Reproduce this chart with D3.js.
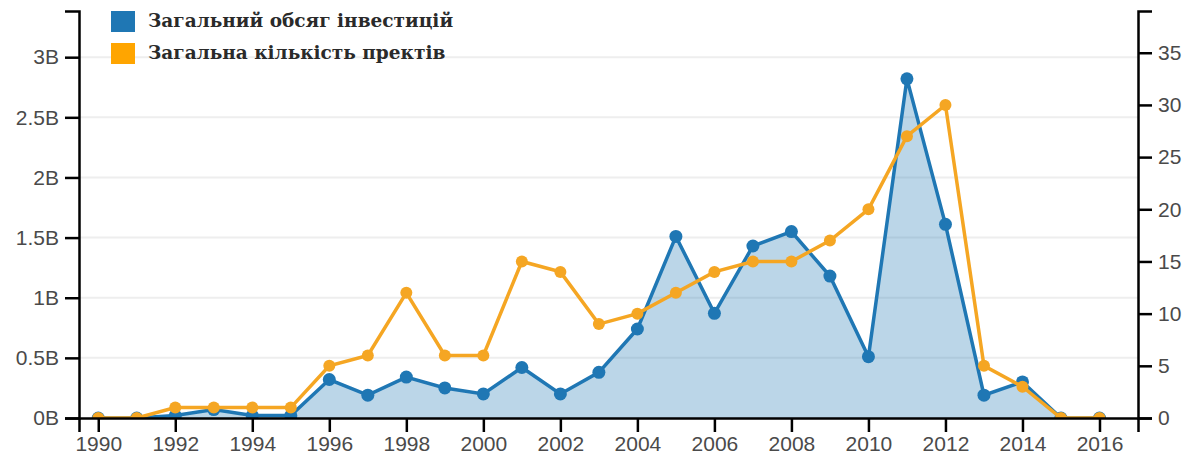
<!DOCTYPE html>
<html>
<head>
<meta charset="utf-8">
<script src="https://cdn.jsdelivr.net/npm/d3@7"></script>
<style>
  body { margin: 0; background: #fff; }
  .tick text { font-family: "Liberation Sans", Arial, sans-serif; font-size: 21px; fill: #4a4a4a; }
  .axis path, .axis line { stroke: #000; stroke-width: 2.5px; }
  .legend text { font-family: "DejaVu Serif", Georgia, serif; font-size: 18.5px; font-weight: bold; fill: #2a2a2a; }
</style>
</head>
<body>
<svg id="chart" width="1194" height="459"></svg>
<script>
// data
var years = [1990, 1991, 1992, 1993, 1994, 1995, 1996, 1997, 1998, 1999, 2000, 2001, 2002, 2003,
             2004, 2005, 2006, 2007, 2008, 2009, 2010, 2011, 2012, 2013, 2014, 2015, 2016];
// total investment, billions
var investment = [0, 0, 0.02, 0.07, 0.02, 0.02, 0.32, 0.19, 0.34, 0.25, 0.20, 0.42, 0.20, 0.38,
                  0.74, 1.51, 0.87, 1.43, 1.55, 1.18, 0.51, 2.82, 1.61, 0.19, 0.30, 0, 0];
// total number of projects
var projects = [0, 0, 1, 1, 1, 1, 5, 6, 12, 6, 6, 15, 14, 9,
                10, 12, 14, 15, 15, 17, 20, 27, 30, 5, 3, 0, 0];

var xTicks = d3.range(1990, 2017, 2);
var leftTicks = [0, 0.5, 1, 1.5, 2, 2.5, 3];
var rightTicks = [0, 5, 10, 15, 20, 25, 30, 35];
var legendLabels = ["Загальний обсяг інвестицій", "Загальна кількість пректів"];

var blue = "#1f77b4", orange = "#f5a623";

var svg = d3.select("#chart");
var margin = {top: 11, right: 56, bottom: 41, left: 79};
var width = 1194, height = 459;

var x = d3.scaleLinear().domain([1989.5, 2017]).range([margin.left, width - margin.right]);
var yL = d3.scaleLinear().domain([0, d3.max(investment) * 1.2]).range([height - margin.bottom, margin.top]);
var yR = d3.scaleLinear().domain([0, d3.max(projects) * 1.3]).range([height - margin.bottom, margin.top]);

var inv = years.map(function (y, i) { return {year: y, v: investment[i]}; });
var prj = years.map(function (y, i) { return {year: y, v: projects[i]}; });

// grid
svg.append("g")
    .selectAll("line")
    .data(leftTicks.slice(1))
    .enter().append("line")
    .attr("x1", margin.left).attr("x2", width - margin.right)
    .attr("y1", function (d) { return yL(d); })
    .attr("y2", function (d) { return yL(d); })
    .attr("stroke", "#eee")
    .attr("stroke-width", 2);

svg.append("clipPath").attr("id", "plot")
    .append("rect")
    .attr("x", margin.left).attr("y", 0)
    .attr("width", width - margin.left - margin.right)
    .attr("height", height - margin.bottom);

var plot = svg.append("g").attr("clip-path", "url(#plot)");

var area = d3.area()
    .x(function (d) { return x(d.year); })
    .y0(yL(0))
    .y1(function (d) { return yL(d.v); });

plot.append("path")
    .datum(inv)
    .attr("d", area)
    .attr("fill", blue)
    .attr("fill-opacity", 0.3);

var lineL = d3.line().x(function (d) { return x(d.year); }).y(function (d) { return yL(d.v); });
var lineR = d3.line().x(function (d) { return x(d.year); }).y(function (d) { return yR(d.v); });

plot.append("path")
    .datum(inv)
    .attr("d", lineL)
    .attr("fill", "none")
    .attr("stroke", blue)
    .attr("stroke-width", 3.5);

plot.selectAll("circle.inv")
    .data(inv)
    .enter().append("circle")
    .attr("class", "inv")
    .attr("cx", function (d) { return x(d.year); })
    .attr("cy", function (d) { return yL(d.v); })
    .attr("r", 6.5)
    .attr("fill", blue);

plot.append("path")
    .datum(prj)
    .attr("d", lineR)
    .attr("fill", "none")
    .attr("stroke", orange)
    .attr("stroke-width", 3.5);

plot.selectAll("circle.prj")
    .data(prj)
    .enter().append("circle")
    .attr("class", "prj")
    .attr("cx", function (d) { return x(d.year); })
    .attr("cy", function (d) { return yR(d.v); })
    .attr("r", 6)
    .attr("fill", orange);

// axes
svg.append("g")
    .attr("class", "axis")
    .attr("transform", "translate(0," + (height - margin.bottom) + ")")
    .call(d3.axisBottom(x).tickValues(xTicks).tickFormat(d3.format("d")).tickSize(14).tickPadding(4));

svg.append("g")
    .attr("class", "axis")
    .attr("transform", "translate(" + margin.left + ",0)")
    .call(d3.axisLeft(yL).tickValues(leftTicks).tickFormat(function (d) { return d + "B"; }).tickSize(14).tickPadding(6));

svg.append("g")
    .attr("class", "axis")
    .attr("transform", "translate(" + (width - margin.right) + ",0)")
    .call(d3.axisRight(yR).tickValues(rightTicks).tickSize(14).tickPadding(6));

// legend
var legend = svg.append("g").attr("class", "legend");
var lg = legend.selectAll("g")
    .data(legendLabels)
    .enter().append("g")
    .attr("transform", function (d, i) { return "translate(111," + (11 + i * 32) + ")"; });
lg.append("rect")
    .attr("width", 24).attr("height", 21)
    .attr("fill", function (d, i) { return i === 0 ? blue : "#ffa500"; });
lg.append("text")
    .attr("x", 37).attr("y", 16)
    .text(function (d) { return d; });
</script>
</body>
</html>
